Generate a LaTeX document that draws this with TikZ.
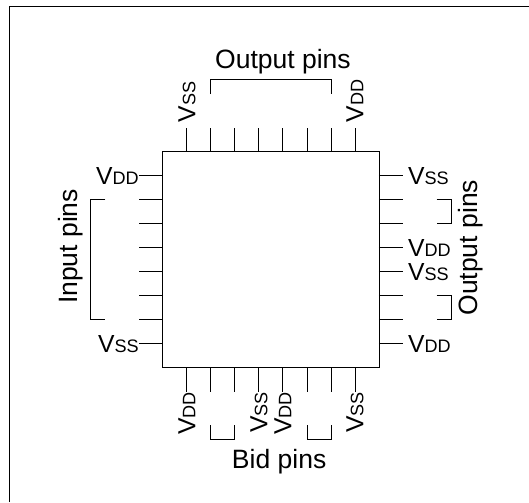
\documentclass[tikz,border=0pt]{standalone}
\usepackage{fontspec}
\setmainfont{Liberation Sans}
\newcommand{\pinname}[2]{{\fontsize{20.5}{20.5}\selectfont #1\fontsize{15}{15}\selectfont #2}}
\newcommand{\Vss}{\pinname{V}{SS}}
\newcommand{\Vdd}{\pinname{V}{DD}}
\tikzset{
pinlabel/.style={inner sep=0, text depth=0pt},
grouplabel/.style={font=\fontsize{22}{22}\selectfont, inner sep=0, anchor=base}
}
\begin{document}
\begin{tikzpicture} [scale=.7]
\useasboundingbox (-6.79,-5.6) rectangle (15.25,15.32);
\draw[black,thick] (-6.4,-5.6)--(-6.4,15.07)--(15.25,15.07);
\draw[black,thick] (0,0) rectangle (9,9);
\foreach \i in {1,...,8} {
\draw[black,thick] (\i,9)--++(0,1);
\draw[black,thick] (\i,0)--++(0,-1);
\draw[black,thick] (0,\i)--++(-1,0);
\draw[black,thick] (9,\i)--++(1,0);
}
\draw[black,thick] (2,11.4)--(2,12)--(7,12)--(7,11.4);
\draw[black,thick] (-2.4,7)--(-3,7)--(-3,2)--(-2.4,2);
\draw[black,thick] (11.4,7)--(12,7)--(12,6)--(11.4,6);
\draw[black,thick] (11.4,3)--(12,3)--(12,2)--(11.4,2);
\draw[black,thick] (2,-2.4)--(2,-3)--(3,-3)--(3,-2.4);
\draw[black,thick] (6,-2.4)--(6,-3)--(7,-3)--(7,-2.4);
\node[pinlabel, rotate=90, anchor=west] (topvss) at (1,10.22) {\Vss};
\node[pinlabel, rotate=90, anchor=west] (topvdd) at (8,10.22) {\Vdd};
\node[pinlabel, anchor=east] (leftvdd) at (-1,8) {\Vdd};
\node[pinlabel, anchor=east] (leftvss) at (-1,1) {\Vss};
\node[pinlabel, anchor=west] (rightvssa) at (10.2,8) {\Vss};
\node[pinlabel, anchor=west] (rightvdda) at (10.2,5) {\Vdd};
\node[pinlabel, anchor=west] (rightvssb) at (10.2,4) {\Vss};
\node[pinlabel, anchor=west] (rightvddb) at (10.2,1) {\Vdd};
\node[pinlabel, rotate=90, anchor=east] (botvdda) at (1,-1) {\Vdd};
\node[pinlabel, rotate=90, anchor=east] (botvssa) at (4,-1) {\Vss};
\node[pinlabel, rotate=90, anchor=east] (botvddb) at (5,-1) {\Vdd};
\node[pinlabel, rotate=90, anchor=east] (botvssb) at (8,-1) {\Vss};
\node[grouplabel] (outputtop) at (5,12.45) {Output pins};
\node[grouplabel, rotate=90] (inputleft) at (-3.58,5.05) {Input pins};
\node[grouplabel, rotate=90] (outputright) at (13.1,5) {Output pins};
\node[grouplabel] (bidbottom) at (4.84,-4.18) {Bid pins};
\end{tikzpicture}
\end{document}
